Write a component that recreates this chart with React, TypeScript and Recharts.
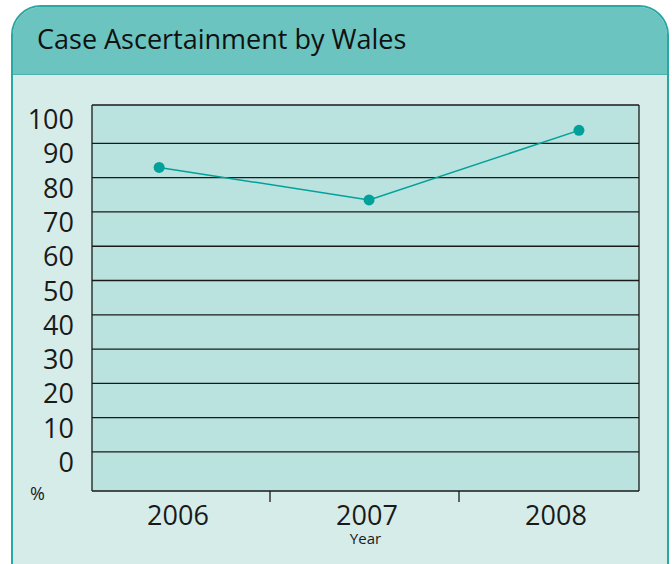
import React from 'react';
import { LineChart, Line, XAxis, YAxis, CartesianGrid, Label } from 'recharts';

const years = [2006, 2007, 2008];
const ascertainment = [83, 73.5, 93.8];
const yTicks = [0, 10, 20, 30, 40, 50, 60, 70, 80, 90, 100];
const gridValues = [0, 10, 20, 30, 40, 50, 60, 70, 80, 90];
const yDomain = [-11.4, 101.2];
const xDomain = [2005.68, 2008.286];

const data = years.map((year, i) => ({ year, value: ascertainment[i] }));

const FONT = '"Open Sans", "Noto Sans", sans-serif';
const TEAL = '#00A19A';
const FRAME = '#1a1a1a';

const YTick = (props: any) => {
  const { x, y, payload } = props;
  return (
    <text x={x - 18} y={y + 20} textAnchor="end" fontSize={27} fontFamily={FONT} fill="#1a1a1a">
      {payload.value}
    </text>
  );
};

const XTick = (props: any) => {
  const { x, y, payload, index } = props;
  return (
    <g>
      <text x={x} y={y + 34} textAnchor="middle" fontSize={27} fontFamily={FONT} fill="#1a1a1a">
        {payload.value}
      </text>
      {index < years.length - 1 && (
        <line x1={x + 92} x2={x + 92} y1={y} y2={y + 11} stroke={FRAME} strokeWidth={1.3} />
      )}
    </g>
  );
};

const App = () => {
  return (
    <div style={{ position: 'absolute', left: 0, top: 0, width: 672, height: 564, overflow: 'hidden', background: '#fff' }}>
      <div
        style={{
          position: 'absolute',
          left: 11,
          top: 5,
          width: 654,
          height: 620,
          border: '2px solid #2AA7A1',
          borderRadius: '30px 30px 0 0',
          background: '#D6ECE9',
          overflow: 'hidden',
        }}
      >
        <div style={{ height: 67, background: '#6BC4BF', borderBottom: '1px solid #4FB1AC' }} />
      </div>
      <div
        style={{
          position: 'absolute',
          left: 37,
          top: 25,
          fontFamily: FONT,
          fontSize: 27,
          lineHeight: '27px',
          color: '#111',
          whiteSpace: 'nowrap',
        }}
      >
        Case Ascertainment by Wales
      </div>
      <div
        style={{
          position: 'absolute',
          left: 30,
          top: 484,
          fontFamily: FONT,
          fontSize: 18,
          lineHeight: '18px',
          color: '#1a1a1a',
        }}
      >
        %
      </div>
      <div style={{ position: 'absolute', left: 0, top: 0 }}>
        <LineChart width={672} height={564} data={data} margin={{ top: 104, right: 32, bottom: 0, left: 0 }}>
          <CartesianGrid
            vertical={false}
            horizontalValues={gridValues}
            fill="#BAE2DE"
            stroke={FRAME}
            strokeWidth={1.3}
          />
          <XAxis
            dataKey="year"
            type="category"
            scale="point"
            padding={{ left: 86, right: 83 }}
            height={73}
            axisLine={{ stroke: FRAME, strokeWidth: 1.3 }}
            tickLine={false}
            tickSize={0}
            tickMargin={0}
            tick={<XTick />}
          >
            <Label value="Year" position="insideBottom" offset={20} fontSize={15} fontFamily={FONT} fill="#1a1a1a" />
          </XAxis>
          <XAxis
            xAxisId="top"
            orientation="top"
            dataKey="year"
            type="number"
            domain={xDomain}
            height={1}
            tick={false}
            tickLine={false}
            axisLine={{ stroke: FRAME, strokeWidth: 1.3 }}
          />
          <XAxis xAxisId="num" dataKey="year" type="number" domain={xDomain} hide />
          <YAxis
            type="number"
            domain={yDomain}
            ticks={yTicks}
            width={92}
            axisLine={{ stroke: FRAME, strokeWidth: 1.3 }}
            tickLine={false}
            tickSize={0}
            tickMargin={0}
            tick={<YTick />}
            interval={0}
          />
          <YAxis
            yAxisId="right"
            orientation="right"
            type="number"
            domain={yDomain}
            width={1}
            tick={false}
            tickLine={false}
            axisLine={{ stroke: FRAME, strokeWidth: 1.3 }}
          />
          <Line
            xAxisId="num"
            type="linear"
            dataKey="value"
            stroke={TEAL}
            strokeWidth={1.5}
            dot={{ r: 5.5, fill: TEAL, stroke: 'none' }}
            activeDot={false}
            isAnimationActive={false}
          />
        </LineChart>
      </div>
    </div>
  );
};

export default App;
